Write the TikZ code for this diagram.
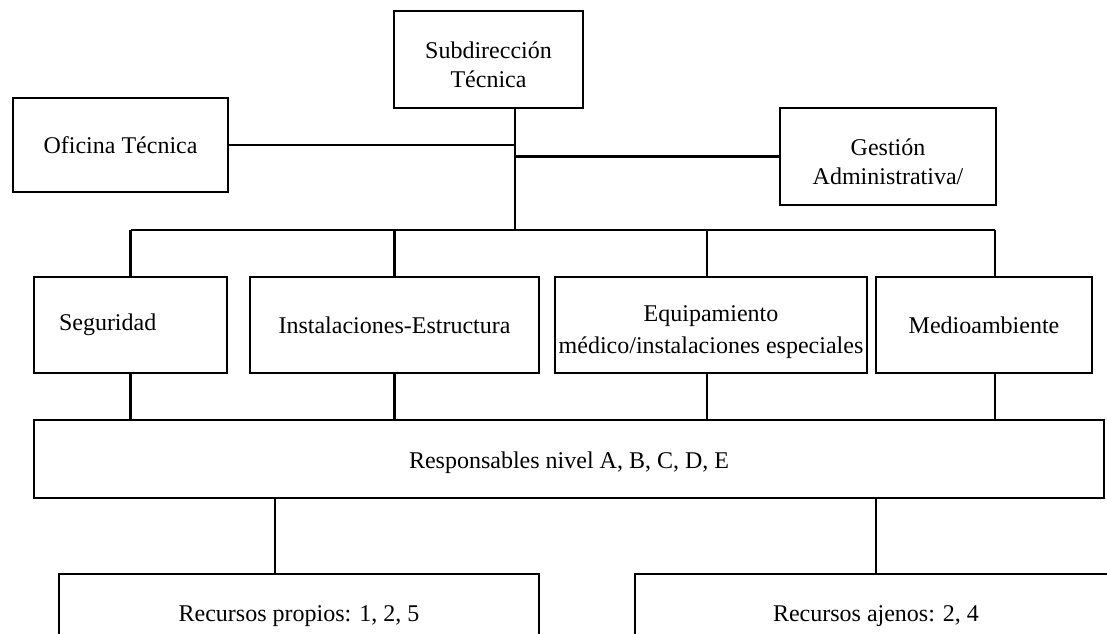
\documentclass[tikz,border=0pt]{standalone}
\usepackage{fontspec}
\setmainfont{Liberation Serif}

\begin{document}
\begin{tikzpicture}[x=1pt, y=-1pt,
		caja/.style={draw, line width=2.5pt, inner sep=2pt, align=center,
			font=\fontsize{24}{29}\selectfont},
		linea/.style={line width=2.6pt}]
		\clip (0,0) rectangle (1107,633);

		\node[caja, minimum width=189pt, minimum height=97pt] (sub) at (488.5,59.5) {\rule{0pt}{28pt}Subdirección\\Técnica};
		\node[caja, minimum width=215pt, minimum height=94pt] (ofi) at (120.5,145) {Oficina Técnica};
		\node[caja, minimum width=216pt, minimum height=97pt] (ges) at (888,156.5) {\rule{0pt}{28pt}Gestión\\Administrativa/};

		\coordinate (bus) at (515,230);

		\node[caja, minimum height=96pt, text width=143pt, inner xsep=25pt, align=left] (seg) at (130.5,325) {Seguridad};
		\node[caja, minimum width=289pt, minimum height=96pt] (ins) at (394.5,325) {Instalaciones-Estructura};
		\node[caja, minimum width=312pt, minimum height=96pt, inner xsep=0pt,
			font=\fontsize{24}{32}\selectfont] (equ) at (711,325) {\rule{0pt}{30pt}Equipamiento\\médico/instalaciones especiales};
		\node[caja, minimum width=216pt, minimum height=96pt] (med) at (984,325) {Medioambiente};

		\node[caja, minimum width=1070pt, minimum height=78pt] (resp) at (569,459) {\rule{0pt}{24pt}Responsables nivel A, B, C, D, E};

		\node[caja, minimum width=480pt, minimum height=84pt] (rp) at (299,616) {Recursos propios: 1, 2, 5};
		\node[caja, minimum width=482pt, minimum height=84pt] (ra) at (876,616) {Recursos ajenos: 2, 4};

		% arriba
		\draw[linea] (sub.south -| bus) -- (bus);
		\draw[linea] (ofi.east) -- (ofi.east -| bus);
		\draw[linea] (ges.west) -- (ges.west -| bus);

		\draw[linea] (seg.north |- bus) -- ([xshift=11pt]med.north |- bus);
		\draw[linea] (seg.north |- bus) -- (seg.north);
		\draw[linea] (ins.north |- bus) -- (ins.north);
		\draw[linea] ([xshift=-4pt]equ.north |- bus) -- ([xshift=-4pt]equ.north);
		\draw[linea] ([xshift=11pt]med.north |- bus) -- ([xshift=11pt]med.north);

		% responsables
		\draw[linea] (seg.south) -- (seg.south |- resp.north);
		\draw[linea] (ins.south) -- (ins.south |- resp.north);
		\draw[linea] ([xshift=-4pt]equ.south) -- ([xshift=-4pt]equ.south |- resp.north);
		\draw[linea] ([xshift=11pt]med.south) -- ([xshift=11pt]med.south |- resp.north);

		% recursos
		\draw[linea] ([xshift=-24pt]rp.north |- resp.south) -- ([xshift=-24pt]rp.north);
		\draw[linea] (ra.north |- resp.south) -- (ra.north);
	\end{tikzpicture}
\end{document}
